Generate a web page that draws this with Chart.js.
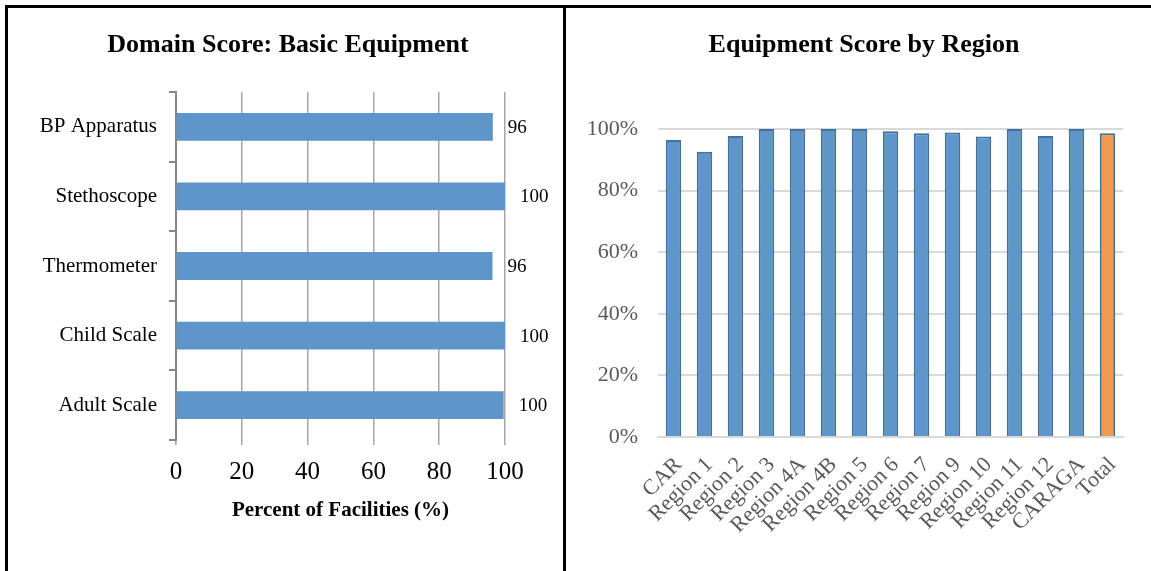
<!DOCTYPE html>
<html>
<head>
<meta charset="utf-8">
<script src="https://cdn.jsdelivr.net/npm/chart.js@4/dist/chart.umd.min.js"></script>
<style>
  body { margin: 0; background: #fff; width: 1151px; height: 571px; overflow: hidden; position: relative; }
  .line { position: absolute; background: #000; }
  #left { position: absolute; left: 9px; top: 9px; }
  #right { position: absolute; left: 567px; top: 9px; }
</style>
</head>
<body>
<div class="line" style="left:5px;top:5px;width:1146px;height:3px"></div>
<div class="line" style="left:5px;top:5px;width:3px;height:566px"></div>
<div class="line" style="left:563px;top:5px;width:3px;height:566px"></div>
<canvas id="left" width="555" height="562"></canvas>
<canvas id="right" width="584" height="562"></canvas>
<script>
var equipLabels = ["BP Apparatus", "Stethoscope", "Thermometer", "Child Scale", "Adult Scale"]
var equipValues = [96.3, 100, 96.2, 100, 99.6]

var regionLabels = ["CAR", "Region 1", "Region 2", "Region 3", "Region 4A", "Region 4B", "Region 5",
  "Region 6", "Region 7", "Region 9", "Region 10", "Region 11", "Region 12", "CARAGA", "Total"]
var regionValues = [96.4, 92.6, 97.7, 100, 100, 100, 100, 99.3, 98.6, 98.9, 97.6, 100, 97.7, 100, 98.6]

var serif = "'Liberation Serif', 'Times New Roman', serif"

// colour the last bar (Total) orange
var regionColors = regionLabels.map(function (l) { return l == "Total" ? "#ef9952" : "#5f96ca" })

// chart heading, drawn at a set x so it is not tied to the plot width
var heading = {
  id: "heading",
  afterDraw: function (chart, args, opts) {
    var ctx = chart.ctx
    ctx.save()
    ctx.font = "bold 26px " + serif
    ctx.fillStyle = "#000"
    ctx.textAlign = "center"
    ctx.textBaseline = "middle"
    ctx.fillText(opts.text, opts.x, opts.y)
    ctx.restore()
  }
}

// numbers printed to the right of each horizontal bar
var barValueLabels = {
  id: "barValueLabels",
  afterDatasetsDraw: function (chart) {
    var ctx = chart.ctx
    var meta = chart.getDatasetMeta(0)
    ctx.save()
    ctx.font = "19px " + serif
    ctx.fillStyle = "#000"
    ctx.textAlign = "left"
    ctx.textBaseline = "middle"
    meta.data.forEach(function (bar, i) {
      ctx.fillText(Math.round(equipValues[i]), bar.x + 15, bar.y + 1)
    })
    ctx.restore()
  }
}

new Chart("left", {
  type: "bar",
  data: {
    labels: equipLabels,
    datasets: [{
      data: equipValues,
      backgroundColor: "#5f96c9",
      borderWidth: 0,
      barPercentage: 0.4,
      categoryPercentage: 1.0
    }]
  },
  plugins: [heading, barValueLabels],
  options: {
    indexAxis: "y",
    responsive: false,
    animation: false,
    layout: { padding: { left: 10, right: 59, top: 83, bottom: 38 } },
    plugins: {
      legend: { display: false },
      tooltip: { enabled: false },
      heading: { text: "Domain Score: Basic Equipment", x: 279, y: 36 }
    },
    scales: {
      x: {
        min: 0,
        max: 100,
        ticks: { stepSize: 20, color: "#000", padding: 12, font: { family: serif, size: 25 } },
        grid: { color: "#a6a6a6", lineWidth: 1.5, drawTicks: true, tickLength: 5 },
        border: { display: false },
        title: {
          display: true,
          text: "Percent of Facilities (%)",
          color: "#000",
          font: { family: serif, size: 21, weight: "bold" },
          padding: { top: 0, bottom: 10 }
        },
        afterFit: function (scale) { scale.height = 93 }
      },
      y: {
        ticks: { color: "#000", padding: 12, font: { family: serif, size: 21 } },
        grid: { offset: true, drawOnChartArea: false, drawTicks: true, tickLength: 7, color: "#868686", lineWidth: 2 },
        border: { color: "#868686", width: 2 },
        afterFit: function (scale) { scale.width = 157 }
      }
    }
  }
})

new Chart("right", {
  type: "bar",
  data: {
    labels: regionLabels,
    datasets: [{
      data: regionValues,
      backgroundColor: regionColors,
      borderColor: "#41719c",
      borderWidth: 2,
      borderSkipped: "bottom",
      barPercentage: 0.5,
      categoryPercentage: 1.0
    }]
  },
  plugins: [heading],
  options: {
    responsive: false,
    animation: false,
    layout: { padding: { left: 5, right: 28, top: 120, bottom: 0 } },
    plugins: {
      legend: { display: false },
      tooltip: { enabled: false },
      heading: { text: "Equipment Score by Region", x: 297, y: 36 }
    },
    scales: {
      x: {
        ticks: { color: "#595959", minRotation: 45, maxRotation: 45, padding: 7, labelOffset: 5, autoSkip: false, font: { family: serif, size: 22 } },
        grid: { display: false },
        border: { color: "#d9d9d9", width: 2 },
        afterFit: function (scale) { scale.height = 134 }
      },
      y: {
        min: 0,
        max: 100,
        ticks: {
          stepSize: 20,
          color: "#595959",
          padding: 20,
          font: { family: serif, size: 22 },
          callback: function (v) { return v + "%" }
        },
        grid: { color: "#d9d9d9", lineWidth: 2, drawTicks: false },
        border: { display: false },
        afterFit: function (scale) { scale.width = 86 }
      }
    }
  }
})
</script>
</body>
</html>
